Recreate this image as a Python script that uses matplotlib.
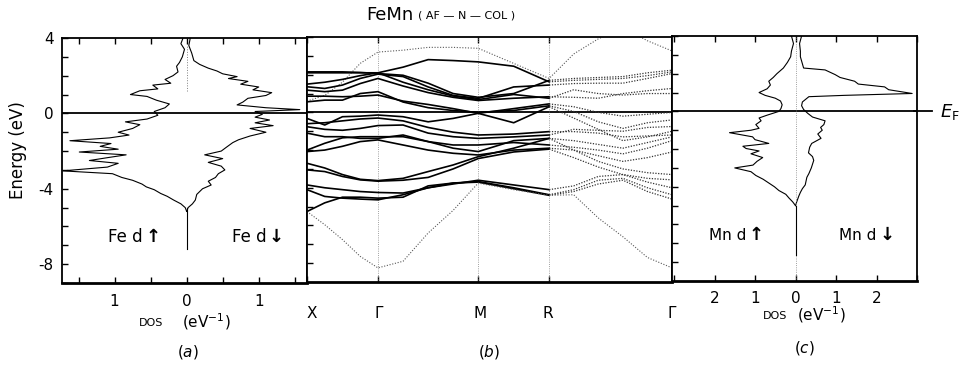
import matplotlib
matplotlib.use('Agg')
import matplotlib.pyplot as plt
import numpy as np

plt.rcParams['font.family'] = 'DejaVu Sans'
plt.rcParams['axes.unicode_minus'] = False

# ---- DOS (a): Fe d, energies in eV, DOS in eV^-1
fe_up_e = [4.0, 3.7, 3.4, 3.0, 2.7, 2.5, 2.2, 2.0, 1.8, 1.6, 1.5, 1.3, 1.2, 1.0, 0.9, 0.7, 0.5, 0.3, 0.1,
           -0.1, -0.3, -0.45, -0.6, -0.8, -1.0, -1.15, -1.3, -1.45, -1.6, -1.75, -1.9, -2.05, -2.2, -2.35,
           -2.5, -2.65, -2.85, -3.05, -3.2, -3.4, -3.55, -3.75, -3.9, -4.05, -4.25, -4.4, -4.6, -4.8, -5.0, -5.2]
fe_up = [0.05, 0.08, 0.03, 0.06, 0.10, 0.14, 0.12, 0.19, 0.30, 0.22, 0.47, 0.40, 0.65, 0.78, 0.55, 0.42, 0.24, 0.30, 0.45,
         0.40, 0.55, 0.85, 0.65, 0.75, 0.95, 0.80, 1.07, 1.62, 1.05, 1.20, 0.95, 1.49, 0.84, 1.10,
         1.35, 0.95, 1.10, 1.72, 1.03, 0.90, 0.75, 0.62, 0.56, 0.45, 0.36, 0.27, 0.18, 0.08, 0.02, 0.0]
fe_dn_e = [4.0, 3.6, 3.2, 2.8, 2.6, 2.4, 2.25, 2.1, 1.95, 1.85, 1.7, 1.55, 1.4, 1.25, 1.1, 0.95, 0.8, 0.6, 0.45,
           0.3, 0.2, 0.1, -0.05, -0.2, -0.35, -0.5, -0.65, -0.8, -1.0, -1.2, -1.4, -1.55, -1.8, -2.0, -2.2,
           -2.4, -2.6, -2.8, -3.0, -3.2, -3.4, -3.6, -3.8, -4.0, -4.3, -4.6, -4.8, -5.0, -5.2]
fe_dn = [0.05, 0.03, 0.07, 0.10, 0.18, 0.30, 0.42, 0.50, 0.70, 0.58, 0.85, 0.75, 1.00, 0.92, 1.18, 1.10, 0.85, 0.78, 0.70,
         1.10, 1.57, 0.95, 1.05, 0.95, 1.15, 0.95, 1.20, 0.88, 1.10, 0.88, 0.72, 0.64, 0.55, 0.48, 0.25,
         0.50, 0.30, 0.48, 0.53, 0.44, 0.40, 0.30, 0.34, 0.22, 0.14, 0.12, 0.08, 0.02, 0.0]

# ---- DOS (c): Mn d
mn_up_e = [4.0, 3.6, 3.2, 2.9, 2.6, 2.3, 2.0, 1.8, 1.6, 1.4, 1.2, 1.0, 0.85, 0.7, 0.55, 0.35, 0.15, 0.0,
           -0.2, -0.35, -0.5, -0.7, -0.9, -1.0, -1.13, -1.35, -1.5, -1.7, -1.85, -1.97, -2.1, -2.25, -2.45,
           -2.65, -2.85, -3.0, -3.2, -3.4, -3.6, -3.8, -4.0, -4.2, -4.4, -4.6, -4.8, -5.0]
mn_up = [0.10, 0.05, 0.10, 0.12, 0.20, 0.30, 0.46, 0.55, 0.66, 0.62, 0.70, 0.90, 0.75, 0.50, 0.37, 0.33, 0.36, 0.41,
         0.70, 0.90, 0.85, 0.98, 0.90, 1.10, 1.63, 1.06, 1.00, 0.66, 1.30, 1.22, 0.90, 1.10, 0.81,
         0.95, 1.05, 1.50, 1.10, 0.98, 0.80, 0.66, 0.52, 0.41, 0.24, 0.16, 0.07, 0.0]
mn_dn_e = [4.0, 3.6, 3.2, 2.9, 2.6, 2.3, 2.2, 1.95, 1.8, 1.6, 1.45, 1.3, 1.15, 0.95, 0.85, 0.78, 0.5, 0.3, 0.1,
           -0.1, -0.3, -0.5, -0.7, -0.85, -1.0, -1.2, -1.43, -1.7, -1.9, -2.2, -2.4, -2.6, -2.8, -3.0,
           -3.3, -3.5, -3.9, -4.1, -4.3, -4.5, -4.8, -5.0]
mn_dn = [0.15, 0.10, 0.12, 0.12, 0.16, 0.20, 0.73, 0.98, 1.10, 1.46, 1.55, 2.20, 2.30, 2.88, 1.20, 0.33, 0.17, 0.15, 0.20,
         0.30, 0.42, 0.73, 0.70, 0.62, 0.66, 0.55, 0.63, 0.40, 0.35, 0.32, 0.42, 0.45, 0.42, 0.39,
         0.33, 0.28, 0.24, 0.17, 0.12, 0.08, 0.03, 0.0]

# ---- band structure (b)
k_names = ['X', 'Γ', 'M', 'R', 'Γ']
k_pos = [0.0, 0.5, 1.207, 1.707, 2.573]
k_grid = [0.0, 0.125, 0.25, 0.375, 0.5, 0.677, 0.854, 1.030, 1.207, 1.457, 1.707,
          1.880, 2.053, 2.227, 2.400, 2.573]
bands = [
    [0.6, 0.9, 1.6, 2.6, 3.2, 3.3, 3.45, 3.45, 3.4, 2.6, 1.8, 3.1, 3.9, 4.5, 3.8, 3.26],
    [2.1, 2.1, 2.1, 2.1, 2.1, 1.6, 1.2, 0.87, 0.68, 0.95, 0.75, 1.2, 1.0, 0.92, 1.0, 1.0],
    [1.36, 1.27, 1.45, 1.8, 2.03, 1.9, 1.35, 0.9, 0.74, 1.35, 1.45, 1.53, 1.55, 1.55, 1.8, 2.06],
    [1.18, 1.1, 1.18, 1.53, 1.8, 1.4, 1.05, 0.8, 0.63, 0.75, 0.83, 0.8, 0.75, 1.0, 1.15, 1.27],
    [0.86, 0.86, 0.83, 0.86, 0.92, 0.6, 0.42, 0.2, -0.05, -0.55, 0.3, -0.3, -0.9, -1.5, -1.3, -1.0],
    [0.56, 0.65, 0.65, 1.0, 1.1, 0.55, 0.25, 0.1, 0.0, 0.1, 0.35, 0.05, -0.5, -0.85, -0.55, -0.4],
    [-0.32, -0.67, -0.23, -0.2, -0.14, -0.23, -0.5, -0.32, -0.05, 0.2, 0.45, 0.3, 0.0, -0.2, -0.1, 0.0],
    [-0.6, -0.55, -0.45, -0.35, -0.3, -0.45, -0.8, -1.05, -1.2, -1.15, -1.02, -1.02, -1.1, -1.3, -1.25, -1.2],
    [-0.76, -0.9, -0.95, -0.85, -0.7, -0.67, -1.1, -1.29, -1.38, -1.3, -1.2, -0.9, -0.95, -1.0, -0.8, -0.75],
    [-1.1, -1.29, -1.29, -1.38, -1.38, -1.2, -1.55, -1.9, -2.08, -1.5, -1.38, -1.5, -1.7, -1.9, -1.6, -1.3],
    [-2.0, -1.64, -1.35, -1.29, -1.29, -1.29, -1.55, -1.73, -1.73, -1.6, -1.73, -1.85, -2.0, -2.2, -1.9, -1.5],
    [-2.08, -2.0, -1.8, -1.55, -1.46, -1.73, -2.0, -2.17, -2.26, -2.0, -1.9, -2.0, -2.3, -2.6, -2.4, -2.1],
    [-2.7, -2.95, -3.3, -3.55, -3.62, -3.5, -3.14, -2.79, -2.35, -1.9, -1.38, -2.0, -2.6, -3.0, -3.2, -3.3],
    [-3.05, -3.14, -3.4, -3.58, -3.65, -3.6, -3.45, -3.0, -2.45, -2.1, -1.95, -2.4, -2.9, -3.3, -3.5, -3.58],
    [-3.85, -4.0, -4.1, -4.2, -4.25, -4.28, -4.0, -3.8, -3.6, -3.85, -4.1, -3.9, -3.4, -3.3, -3.7, -4.0],
    [-4.1, -4.46, -4.55, -4.6, -4.64, -4.37, -4.0, -3.75, -3.67, -4.0, -4.37, -4.1, -3.6, -3.5, -4.0, -4.37],
    [-5.26, -4.8, -4.5, -4.5, -4.55, -4.5, -3.9, -3.75, -3.7, -4.05, -4.4, -4.2, -3.8, -3.6, -4.2, -4.6],
    [-5.26, -5.96, -6.75, -7.64, -8.25, -7.9, -6.4, -5.2, -3.75, -4.1, -4.4, -4.37, -5.6, -6.6, -7.7, -8.25],
    [1.5, 1.6, 1.75, 1.95, 2.1, 2.4, 2.8, 2.75, 2.68, 2.45, 1.62, 1.7, 1.75, 1.8, 1.95, 2.15],
    [2.15, 2.15, 2.15, 2.12, 2.06, 1.97, 1.55, 1.0, 0.8, 1.0, 1.7, 1.8, 1.85, 1.9, 2.1, 2.24],
]

W, H = 965, 366
fig = plt.figure(figsize=(W / 100, H / 100), dpi=100)


def box(l, b, w, h):
    return [l / W, 1 - b / H, w / W, h / H]


ax_a = fig.add_axes(box(62, 283, 245, 245))
ax_b = fig.add_axes(box(307, 282, 365, 245))
ax_c = fig.add_axes(box(672, 281, 245, 245))

for ax in (ax_a, ax_b, ax_c):
    ax.set_ylim(-9, 4)
    for s in ax.spines.values():
        s.set_linewidth(1.3)
    ax.spines['bottom'].set_linewidth(2.0)
    ax.set_yticks(range(-8, 5))
    ax.tick_params(axis='both', which='both', direction='in', length=4, width=1,
                   labelsize=11, top=True, right=False)
    ax.axhline(0, color='black', lw=1.3)

# (a) Fe
ax_a.set_xlim(-1.73, 1.67)
ax_a.plot(-np.array(fe_up), fe_up_e, color='black', lw=0.8)
ax_a.plot(fe_dn, fe_dn_e, color='black', lw=0.8)
ax_a.plot([0, 0], [-7.2, -5.0], color='black', lw=0.8)
ax_a.plot([0, 0], [1.2, 3.6], color='grey', lw=0.7, ls=':')
ax_a.set_xticks([-1, 0, 1])
ax_a.set_xticks([-1.5, -0.5, 0.5, 1.5], minor=True)
ax_a.set_xticklabels(['1', '0', '1'])
ax_a.set_yticks([-8, -4, 0, 4])
ax_a.set_yticks([-9, -7, -6, -5, -3, -2, -1, 1, 2, 3], minor=True)
ax_a.set_yticklabels(['-8', '-4', '0', '4'])
ax_a.tick_params(axis='x', pad=8)
ax_a.tick_params(axis='y', pad=6)
ax_a.text(-0.61, -6.55, 'Fe d', ha='right', va='center', fontsize=12)
ax_a.text(-0.47, -6.55, '↑', ha='center', va='center', fontsize=13, fontweight='bold')
ax_a.text(1.11, -6.55, 'Fe d', ha='right', va='center', fontsize=12)
ax_a.text(1.24, -6.55, '↓', ha='center', va='center', fontsize=13, fontweight='bold')

# (b) bands
ax_b.set_xlim(k_pos[0], k_pos[-1])
for kp in k_pos[1:-1]:
    ax_b.axvline(kp, color='grey', lw=0.6, ls=':')
faint = {0, 17}
for i, e in enumerate(bands):
    if i in faint:
        ax_b.plot(k_grid, e, color='0.35', lw=0.8, ls=(0, (1, 1.5)))
    else:
        ax_b.plot(k_grid[:11], e[:11], color='black', lw=1.2)
        ax_b.plot(k_grid[10:], e[10:], color='0.2', lw=0.9, ls=(0, (1, 1.2)))
ax_b.set_xticks(k_pos)
ax_b.set_xticklabels([''] * len(k_pos))
ax_b.tick_params(axis='y', labelleft=False)
label_px = [312, 379, 480, 548, 672]
for name, px in zip(k_names, label_px):
    fig.text(px / W, 1 - 313 / H, name, ha='center', va='center', fontsize=11)

# (c) Mn
ax_c.set_xlim(-3.05, 2.93)
ax_c.plot(-np.array(mn_up), mn_up_e, color='black', lw=0.8)
ax_c.plot(mn_dn, mn_dn_e, color='black', lw=0.8)
ax_c.axvline(0, color='grey', lw=0.6, ls=':')
ax_c.plot([0, 0], [-7.6, -5.0], color='black', lw=0.8)
ax_c.plot([2.93, 3.37], [0, 0], color='black', lw=1.3, clip_on=False)
ax_c.set_xticks([-3, -2, -1, 0, 1, 2, 3])
ax_c.set_xticklabels(['', '2', '1', '0', '1', '2', ''])
ax_c.tick_params(axis='y', labelleft=False)
ax_c.tick_params(axis='x', pad=7)
ax_c.text(-1.22, -6.58, 'Mn d', ha='right', va='center', fontsize=11)
ax_c.text(-0.98, -6.58, '↑', ha='center', va='center', fontsize=13, fontweight='bold')
ax_c.text(2.0, -6.58, 'Mn d', ha='right', va='center', fontsize=11)
ax_c.text(2.26, -6.58, '↓', ha='center', va='center', fontsize=13, fontweight='bold')

# labels
fig.text(950 / W, 1 - 112 / H, r'$E_{\rm F}$', ha='center', va='center', fontsize=13)
fig.text(18 / W, 1 - 150 / H, 'Energy (eV)', rotation=90, ha='center', va='center', fontsize=12)
fig.text(414 / W, 1 - 15 / H, 'FeMn', ha='right', va='center', fontsize=13)
fig.text(418 / W, 1 - 16 / H, '( AF — N — COL )', ha='left', va='center', fontsize=8)
fig.text(163 / W, 1 - 323 / H, 'DOS', ha='right', va='center', fontsize=8)
fig.text(182 / W, 1 - 322 / H, r'(eV$^{-1}$)', ha='left', va='center', fontsize=11)
fig.text(787 / W, 1 - 316 / H, 'DOS', ha='right', va='center', fontsize=8)
fig.text(797 / W, 1 - 315 / H, r'(eV$^{-1}$)', ha='left', va='center', fontsize=11)
fig.text(188 / W, 1 - 352 / H, r'($a$)', ha='center', va='center', fontsize=11)
fig.text(489 / W, 1 - 352 / H, r'($b$)', ha='center', va='center', fontsize=11)
fig.text(804 / W, 1 - 348 / H, r'($c$)', ha='center', va='center', fontsize=11)

fig.savefig('out.png', dpi=100)
